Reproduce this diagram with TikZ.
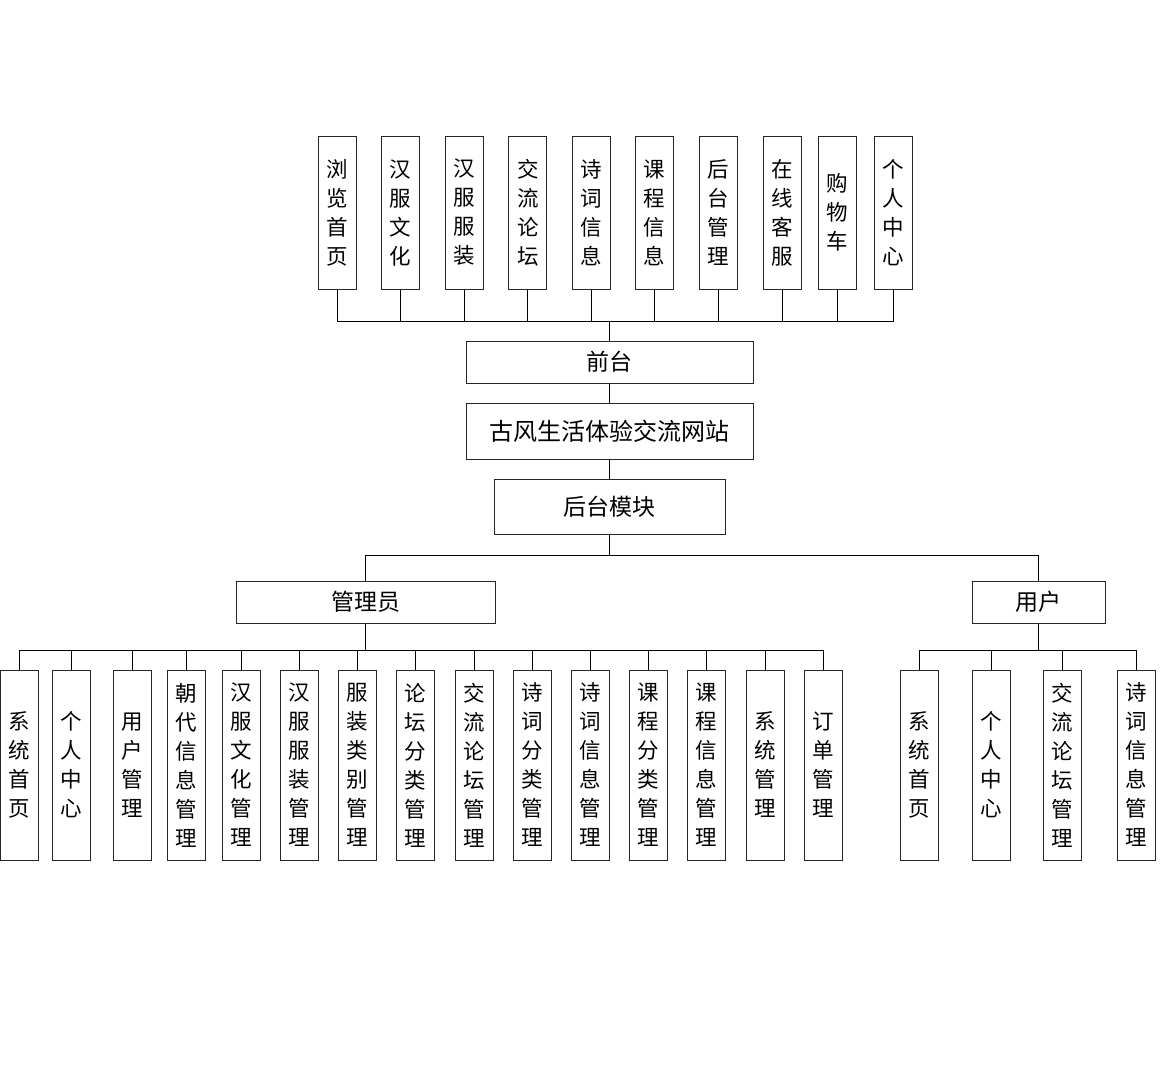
\documentclass[tikz,border=0pt]{standalone}
\usepackage{fontspec}
\newfontfamily\cjk{Noto Sans CJK SC}
\begin{document}
\begin{tikzpicture}[x=1pt,y=-1pt,
  box/.style={draw=black!85,line width=1pt,fill=white,inner sep=0pt,align=center},
  vbox/.style={box,minimum width=38pt,font=\cjk\fontsize{21.5}{29}\selectfont},
  topbox/.style={vbox,minimum height=153pt},
  lowbox/.style={vbox,minimum height=190pt},
  hbox/.style={box,font=\cjk\fontsize{23}{26}\selectfont},
  link/.style={draw=black,line width=0.9pt}]
\useasboundingbox[fill=white] (0,0) rectangle (1169,1071);

% front-end pages
\foreach \n/\x/\t in {
  t1/337/{浏\\览\\首\\页}, t2/400.5/{汉\\服\\文\\化}, t3/464/{汉\\服\\服\\装},
  t4/527.8/{交\\流\\论\\坛}, t5/591.3/{诗\\词\\信\\息}, t6/654.7/{课\\程\\信\\息},
  t7/718.3/{后\\台\\管\\理}, t8/782/{在\\线\\客\\服}, t9/837.3/{购\\物\\车},
  t10/893.2/{个\\人\\中\\心}}
  \node[topbox] (\n) at (\x,212.5) {\t};

% central chain
\node[hbox,minimum width=287pt,minimum height=42pt] (ft) at (609.5,362) {前台};
\node[hbox,minimum width=287pt,minimum height=56pt,font=\cjk\fontsize{24}{26}\selectfont] (site) at (609.5,431) {古风生活体验交流网站};
\node[hbox,minimum width=231pt,minimum height=55pt] (bk) at (609.5,506.5) {后台模块};

% roles
\node[hbox,minimum width=259pt,minimum height=42pt] (adm) at (365.5,602) {管理员};
\node[hbox,minimum width=133pt,minimum height=42pt] (usr) at (1038.5,602) {用户};

% administrator functions
\foreach \n/\x/\t in {
  a1/19.2/{系\\统\\首\\页}, a2/71.7/{个\\人\\中\\心}, a3/132.5/{用\\户\\管\\理},
  a4/186.7/{朝\\代\\信\\息\\管\\理}, a5/241.3/{汉\\服\\文\\化\\管\\理},
  a6/299.5/{汉\\服\\服\\装\\管\\理}, a7/357.7/{服\\装\\类\\别\\管\\理},
  a8/415.7/{论\\坛\\分\\类\\管\\理}, a9/474/{交\\流\\论\\坛\\管\\理},
  a10/532/{诗\\词\\分\\类\\管\\理}, a11/590.3/{诗\\词\\信\\息\\管\\理},
  a12/648.7/{课\\程\\分\\类\\管\\理}, a13/706.7/{课\\程\\信\\息\\管\\理},
  a14/765/{系\\统\\管\\理}, a15/823/{订\\单\\管\\理}}
  \node[lowbox] (\n) at (\x,765) {\t};

% user functions
\foreach \n/\x/\t in {
  u1/919.7/{系\\统\\首\\页}, u2/991/{个\\人\\中\\心},
  u3/1062.3/{交\\流\\论\\坛\\管\\理}, u4/1136.3/{诗\\词\\信\\息\\管\\理}}
  \node[lowbox] (\n) at (\x,765) {\t};

% junction points of the buses
\coordinate (tb) at (609.5,321);
\coordinate (mb) at (609.5,555);
\coordinate (ab) at (365.5,650);
\coordinate (ub) at (1038.5,650);

% connectors
\foreach \n in {t1,t2,t3,t4,t5,t6,t7,t8,t9,t10}
  \draw[link] (\n.south) |- (tb);
\draw[link] (tb) -- (ft.north);
\draw[link] (ft.south) -- (site.north);
\draw[link] (site.south) -- (bk.north);
\draw[link] (bk.south) -- (mb);
\draw[link] (mb) -| (adm.north);
\draw[link] (mb) -| (usr.north);
\draw[link] (adm.south) -- (ab);
\foreach \n in {a1,a2,a3,a4,a5,a6,a7,a8,a9,a10,a11,a12,a13,a14,a15}
  \draw[link] (ab) -| (\n.north);
\draw[link] (usr.south) -- (ub);
\foreach \n in {u1,u2,u3,u4}
  \draw[link] (ub) -| (\n.north);
\end{tikzpicture}
\end{document}
